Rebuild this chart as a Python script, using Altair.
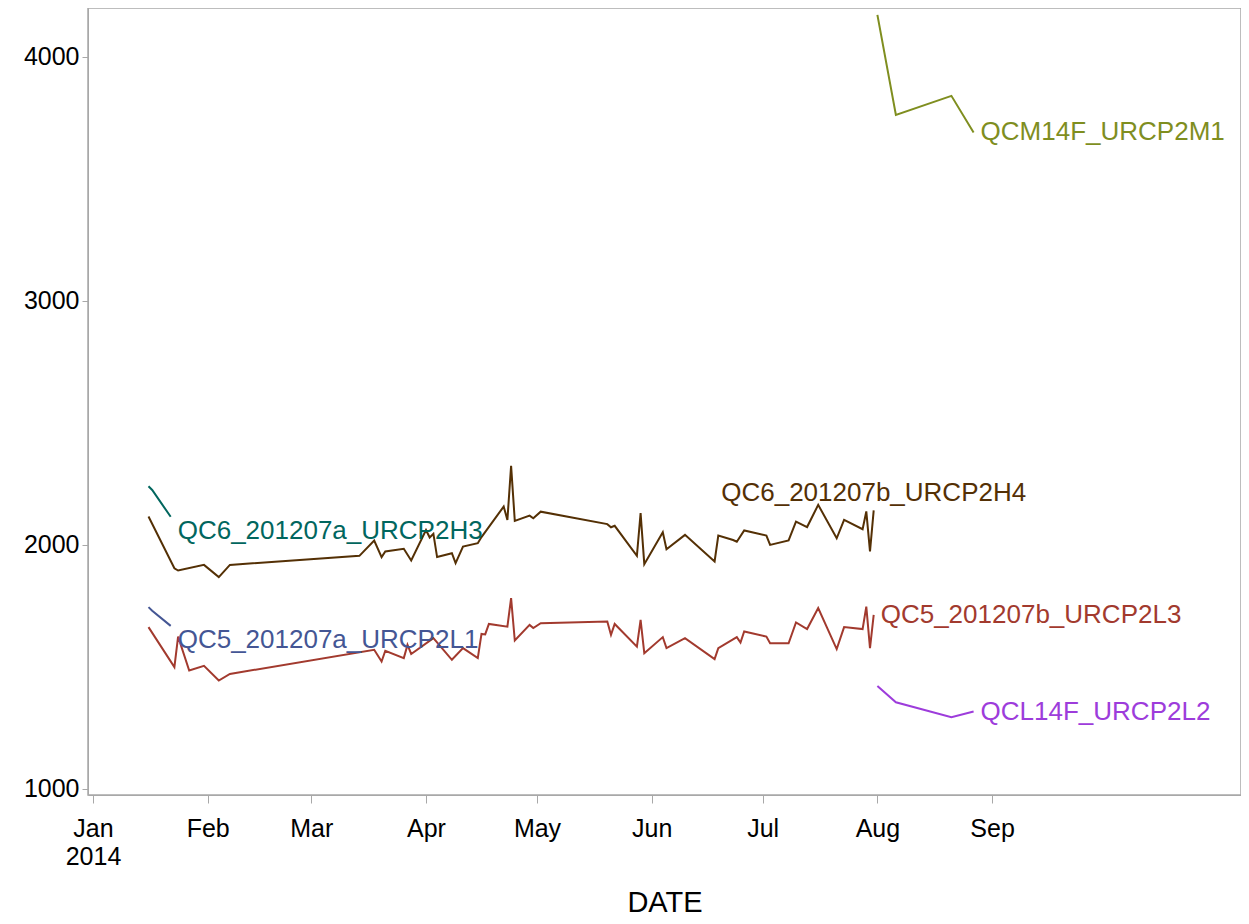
import altair as alt
import pandas as pd

# ---- data ----
h4_name = "QC6_201207b_URCP2H4"
h4_dates = ["2014-01-16", "2014-01-23", "2014-01-24", "2014-01-31", "2014-02-04", "2014-02-07",
            "2014-03-14", "2014-03-18", "2014-03-20", "2014-03-21", "2014-03-26", "2014-03-28",
            "2014-04-01", "2014-04-02", "2014-04-03", "2014-04-04", "2014-04-08", "2014-04-09",
            "2014-04-11", "2014-04-15", "2014-04-16", "2014-04-22", "2014-04-23", "2014-04-24",
            "2014-04-25", "2014-04-29", "2014-04-30", "2014-05-02", "2014-05-20", "2014-05-21",
            "2014-05-22", "2014-05-28", "2014-05-29", "2014-05-30", "2014-06-04", "2014-06-05",
            "2014-06-10", "2014-06-18", "2014-06-19", "2014-06-23", "2014-06-24", "2014-06-26",
            "2014-07-02", "2014-07-03", "2014-07-08", "2014-07-10", "2014-07-13", "2014-07-16",
            "2014-07-21", "2014-07-23", "2014-07-28", "2014-07-29", "2014-07-30", "2014-07-31"]
h4_values = [2116, 1904, 1895, 1918, 1868, 1918,
             1955, 2018, 1950, 1973, 1984, 1936,
             2061, 2030, 2045, 1950, 1966, 1925,
             1993, 2007, 2032, 2157, 2102, 2324,
             2098, 2120, 2109, 2136, 2085, 2072,
             2078, 1955, 2130, 1921, 2052, 1982,
             2041, 1932, 2038, 2020, 2013, 2059,
             2038, 2000, 2018, 2095, 2073, 2164,
             2027, 2102, 2064, 2137, 1973, 2141]

l3_name = "QC5_201207b_URCP2L3"
l3_dates = ["2014-01-16", "2014-01-23", "2014-01-24", "2014-01-27", "2014-01-31", "2014-02-04",
            "2014-02-07", "2014-03-18", "2014-03-20", "2014-03-21", "2014-03-26", "2014-03-27",
            "2014-03-28", "2014-04-03", "2014-04-08", "2014-04-11", "2014-04-15", "2014-04-16",
            "2014-04-17", "2014-04-18", "2014-04-23", "2014-04-24", "2014-04-25", "2014-04-29",
            "2014-04-30", "2014-05-02", "2014-05-20", "2014-05-21", "2014-05-22", "2014-05-28",
            "2014-05-29", "2014-05-30", "2014-06-04", "2014-06-05", "2014-06-10", "2014-06-18",
            "2014-06-19", "2014-06-24", "2014-06-25", "2014-06-26", "2014-07-02", "2014-07-03",
            "2014-07-08", "2014-07-10", "2014-07-13", "2014-07-16", "2014-07-21", "2014-07-23",
            "2014-07-28", "2014-07-29", "2014-07-30", "2014-07-31"]
l3_values = [1663, 1499, 1624, 1485, 1504, 1444,
             1471, 1570, 1522, 1566, 1536, 1590,
             1553, 1618, 1529, 1577, 1536, 1635,
             1633, 1676, 1665, 1782, 1608, 1672,
             1659, 1679, 1686, 1631, 1676, 1583,
             1693, 1556, 1622, 1577, 1618, 1532,
             1577, 1622, 1600, 1645, 1624, 1597,
             1597, 1682, 1655, 1741, 1573, 1663,
             1655, 1747, 1577, 1713]

h3_name = "QC6_201207a_URCP2H3"
h3_dates = ["2014-01-16", "2014-01-17", "2014-01-22"]
h3_values = [2240, 2225, 2115]

l1_name = "QC5_201207a_URCP2L1"
l1_dates = ["2014-01-16", "2014-01-17", "2014-01-22"]
l1_values = [1745, 1730, 1668]

m1_name = "QCM14F_URCP2M1"
m1_dates = ["2014-08-01", "2014-08-06", "2014-08-21", "2014-08-27"]
m1_values = [4172, 3762, 3840, 3690]

l2_name = "QCL14F_URCP2L2"
l2_dates = ["2014-08-01", "2014-08-06", "2014-08-21", "2014-08-27"]
l2_values = [1422, 1355, 1294, 1317]

series_names = [l1_name, l3_name, h3_name, h4_name, l2_name, m1_name]
series_colors = ["#445694", "#A23A2E", "#01665E", "#543005", "#9D3CDB", "#7F8E1F"]

y_ticks = [1000, 2000, 3000, 4000]

# ---- build tables ----
all_series = [
    (h4_name, h4_dates, h4_values),
    (l3_name, l3_dates, l3_values),
    (h3_name, h3_dates, h3_values),
    (l1_name, l1_dates, l1_values),
    (m1_name, m1_dates, m1_values),
    (l2_name, l2_dates, l2_values),
]
rows = []
for name, ds, vs in all_series:
    for d, v in zip(ds, vs):
        rows.append({"series": name, "DATE": d, "value": v})
df = pd.DataFrame(rows)

ends = pd.DataFrame([{"series": n, "DATE": ds[-1], "value": vs[-1]} for n, ds, vs in all_series])

FONT = "Liberation Sans"
GRAY = "#A8A8A8"

color_scale = alt.Scale(domain=series_names, range=series_colors)

x_enc = alt.X(
    "DATE:T",
    scale=alt.Scale(type="utc",
                    domain=[alt.DateTime(year=2013, month=12, date=30, hours=15, minutes=36, utc=True),
                            alt.DateTime(year=2014, month=11, date=7, hours=6, minutes=30, utc=True)]),
    axis=alt.Axis(
        values=[alt.DateTime(year=2014, month=m, date=1, utc=True) for m in range(1, 10)],
        labelExpr="utcmonth(datum.value) == 0 ? [utcFormat(datum.value, '%b'), utcFormat(datum.value, '%Y')] : utcFormat(datum.value, '%b')",
        title="DATE",
        titleFontSize=29,
        titleFontWeight="normal",
        titleFont=FONT,
        titleColor="black",
        titlePadding=19,
        labelFontSize=25,
        labelFont=FONT,
        labelColor="black",
        labelPadding=13,
        labelLineHeight=28,
        labelOverlap=False,
        labelFlush=False,
        tickSize=8,
        tickColor=GRAY,
        domainColor=GRAY,
        grid=False,
    ),
)
y_enc = alt.Y(
    "value:Q",
    scale=alt.Scale(domain=[975, 4200], nice=False, zero=False),
    axis=alt.Axis(
        values=y_ticks,
        format="d",
        title=None,
        labelFontSize=25,
        labelFont=FONT,
        labelColor="black",
        labelPadding=3,
        tickSize=6,
        tickColor=GRAY,
        domainColor=GRAY,
        grid=False,
    ),
)

lines = alt.Chart(df).mark_line(strokeWidth=2).encode(
    x=x_enc,
    y=y_enc,
    color=alt.Color("series:N", scale=color_scale, legend=None),
    detail="series:N",
)

text_common = dict(font=FONT, fontSize=26)

lab_right = alt.Chart(ends).transform_filter(
    alt.FieldOneOfPredicate(field="series", oneOf=[l3_name, m1_name, l2_name])
).mark_text(align="left", baseline="middle", dx=7, dy=0, **text_common).encode(
    x="DATE:T", y="value:Q", text="series:N",
    color=alt.Color("series:N", scale=color_scale, legend=None),
)
lab_below = alt.Chart(ends).transform_filter(
    alt.FieldOneOfPredicate(field="series", oneOf=[h3_name, l1_name])
).mark_text(align="left", baseline="middle", dx=7, dy=14, **text_common).encode(
    x="DATE:T", y="value:Q", text="series:N",
    color=alt.Color("series:N", scale=color_scale, legend=None),
)
lab_above = alt.Chart(ends).transform_filter(
    alt.FieldOneOfPredicate(field="series", oneOf=[h4_name])
).mark_text(align="center", baseline="middle", dx=0, dy=-17, **text_common).encode(
    x="DATE:T", y="value:Q", text="series:N",
    color=alt.Color("series:N", scale=color_scale, legend=None),
)

chart = alt.layer(lines, lab_right, lab_below, lab_above).properties(
    width=1153,
    height=787,
    autosize=alt.AutoSizeParams(type="none"),
    padding={"left": 80, "top": 0, "right": 0, "bottom": 121},
    background="white",
).configure_view(
    stroke=GRAY,
    strokeWidth=1.5,
)

chart.save("out.html", embed_options={"renderer": "svg", "actions": False})
